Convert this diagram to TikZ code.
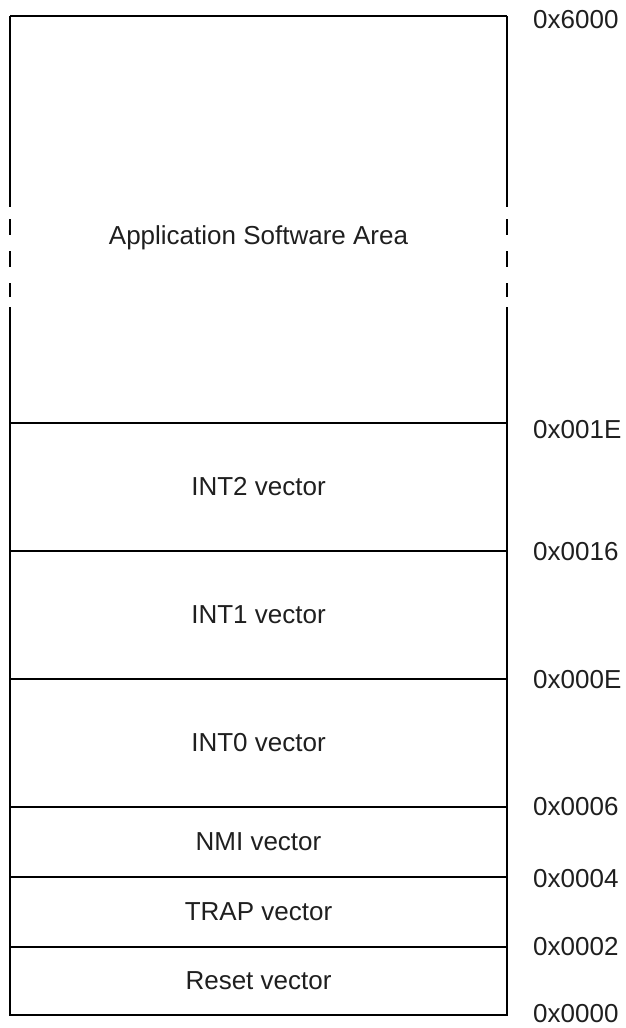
\documentclass[tikz,border=0pt]{standalone}
\usepackage{fontspec}
\setmainfont{Liberation Sans}
\begin{document}
\begin{tikzpicture}[x=1pt,y=-1pt,
  wall/.style={line width=2pt,black},
  region/.style={draw,line width=2pt,minimum width=497pt,inner sep=0pt,
    font=\fontsize{26}{30}\selectfont,text=black!88},
  addr/.style={anchor=west,inner sep=0pt,
    font=\fontsize{26}{30}\selectfont,text=black!88}]
\useasboundingbox (0,0) rectangle (626,1028);

% fixed-size vector slots, bottom to top
\node[region,minimum height=68pt]  (reset) at (258.5,981)   {Reset vector};
\node[region,minimum height=70pt]  (trap)  at (258.5,912)   {TRAP vector};
\node[region,minimum height=70pt]  (nmi)   at (258.5,842)   {NMI vector};
\node[region,minimum height=128pt] (int0)  at (258.5,743)   {INT0 vector};
\node[region,minimum height=128pt] (int1)  at (258.5,615)   {INT1 vector};
\node[region,minimum height=128pt] (int2)  at (258.5,487)   {INT2 vector};

% open-ended application area above the vectors
\coordinate (tl) at (10,16);
\coordinate (tr) at (507,16);
\draw[wall] (tl) -- (tr);
\foreach \xx in {10,507} {
  \draw[wall] (\xx,16) -- (\xx,207);
  \draw[wall] (\xx,219) -- (\xx,235);
  \draw[wall] (\xx,251) -- (\xx,267);
  \draw[wall] (\xx,283) -- (\xx,297);
  \draw[wall] (\xx,307) -- (\xx,423);
}
\node[font=\fontsize{26}{30}\selectfont,text=black!88,inner sep=0pt] (app) at (258.5,238) {Application Software Area};

% address boundaries
\node[addr] (a6000) at (533,20)   {0x6000};
\node[addr] (a001E) at (533,430)  {0x001E};
\node[addr] (a0016) at (533,552)  {0x0016};
\node[addr] (a000E) at (533,680)  {0x000E};
\node[addr] (a0006) at (533,807)  {0x0006};
\node[addr] (a0004) at (533,879)  {0x0004};
\node[addr] (a0002) at (533,947)  {0x0002};
\node[addr] (a0000) at (533,1014) {0x0000};
\end{tikzpicture}
\end{document}
